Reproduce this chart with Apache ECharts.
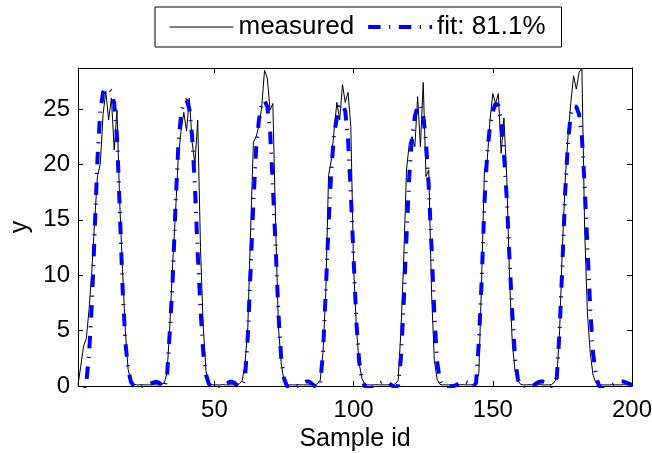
<!DOCTYPE html>
<html>
<head>
<meta charset="utf-8">
<script src="https://cdn.jsdelivr.net/npm/echarts@6/dist/echarts.min.js"></script>
<style>
html,body{margin:0;padding:0;background:#fff;}
#chart{width:652px;height:453px;}
</style>
</head>
<body>
<div id="chart"></div>
<script>
// ---- data ----
var seriesNames = ['measured', 'fit: 81.1%'];
var xTicks = [50, 100, 150, 200];
var yTicks = [0, 5, 10, 15, 20, 25];
var xRange = [1, 200];
var yRange = [0, 28.7];

var measured = [
  0.1, 1.8, 3.6, 4.3, 7, 10.5, 15, 19, 20, 24.5,
  26.6, 24, 26, 21.3, 24.9, 16.5, 10.5, 5, 1.5, 0.4,
  0.15, 0.1, 0.1, 0.12, 0.1, 0.1, 0.1, 0.12, 0.1, 0.1,
  0.15, 0.3, 1.2, 5.5, 11, 15.5, 20.5, 23, 24.7, 23,
  26, 22, 20, 24, 12.5, 5.3, 1.3, 0.3, 0.1, 0.1,
  0.1, 0.1, 0.12, 0.1, 0.1, 0.1, 0.1, 0.12, 0.2, 0.5,
  2, 5.3, 14, 22, 22.5, 23.5, 25.2, 28.5, 27.8, 24.9,
  25.5, 14.4, 5.3, 2, 0.5, 0.15, 0.1, 0.1, 0.1, 0.12,
  0.1, 0.1, 0.1, 0.1, 0.12, 0.1, 0.2, 0.5, 3, 8.4,
  19, 20.4, 23.1, 25.6, 24, 27.2, 25.6, 26.5, 23.4, 10.7,
  5.3, 2, 0.7, 0.15, 0.1, 0.1, 0.1, 0.12, 0.1, 0.1,
  0.1, 0.1, 0.12, 0.1, 0.2, 0.5, 5, 11.4, 19.5, 21.9,
  22.5, 21.6, 26.1, 21.6, 27.4, 18.9, 19.5, 8.4, 2.3, 0.6,
  0.15, 0.1, 0.1, 0.1, 0.12, 0.1, 0.1, 0.1, 0.12, 0.1,
  0.1, 0.1, 0.12, 0.3, 1.2, 9.8, 19.5, 20.4, 24, 26.4,
  25.5, 26.4, 21, 24.2, 18.9, 9.8, 3.9, 1.3, 0.5, 0.15,
  0.1, 0.1, 0.12, 0.1, 0.1, 0.1, 0.12, 0.1, 0.1, 0.1,
  0.12, 0.3, 0.8, 5, 12.5, 18.5, 22.5, 25.5, 28, 26.8,
  28.3, 28.7, 14, 6.5, 3, 1, 0.3, 0.15, 0.1, 0.1,
  0.1, 0.1, 0.12, 0.1, 0.1, 0.1, 0.12, 0.1, 0.1, 0.1
];

var fit = [
  -2, -1.5, -0.8, 0.3, 3, 7.5, 14, 20.5, 24.8, 26.5,
  26.9, 26.8, 26.6, 25.5, 22.5, 16, 9, 4, 1.5, 0.4,
  0, -0.2, -0.2, -0.1, 0, 0.1, 0.2, 0.3, 0.4, 0.3,
  0.1, -0.2, 1, 5, 9.5, 16, 21.5, 24.5, 25.7, 25.8,
  25, 22.5, 18, 12, 7, 3, 1, 0.2, -0.1, -0.2,
  -0.2, -0.1, 0, 0.2, 0.3, 0.4, 0.3, 0.1, -0.1, 0,
  0.8, 4.5, 10.5, 16.5, 21.5, 24, 25.5, 25.8, 25.2, 23,
  18, 12.5, 6.5, 2.5, 0.7, 0, -0.2, -0.2, -0.1, 0,
  0.1, 0.3, 0.4, 0.4, 0.2, 0, -0.2, 0.2, 3, 8.5,
  14.5, 19.5, 22.8, 24.2, 25.2, 25.5, 24.8, 22.2, 17.4, 11.5,
  5.8, 2.2, 0.6, 0, -0.2, -0.2, -0.1, 0, 0.1, 0.3,
  0.4, 0.4, 0.2, 0, -0.2, 0.1, 2.5, 7.5, 13.5, 19,
  22.5, 24.3, 25.3, 25.4, 24.5, 22, 18, 12.5, 6.5, 2.2,
  0.5, 0, -0.2, -0.2, -0.1, 0, 0.1, 0.3, 0.4, 0.4,
  0.3, 0.1, -0.1, 0.3, 4, 9.5, 16.5, 21, 23.5, 24.8,
  25.5, 25.3, 23.8, 21, 17, 11.5, 6.5, 2.5, 0.6, 0,
  -0.2, -0.2, -0.1, 0, 0.1, 0.3, 0.4, 0.4, 0.3, 0.1,
  -0.1, 0.1, 0.8, 5, 11, 17.5, 22, 24.5, 25.3, 25.2,
  24.5, 22.5, 18, 12.5, 7, 3, 1, 0.1, -0.2, -0.2,
  -0.1, 0, 0.1, 0.2, 0.3, 0.4, 0.4, 0.3, 0.2, 0.1
];

// sample ids 1..N (index axis)
var sampleIds = measured.map(function (_, i) { return i + 1; });

function pairs(vals) {
  return vals.map(function (v, i) { return [sampleIds[i], v]; });
}

var FONT = 'Liberation Sans, Arial, Helvetica, sans-serif';

function makeX(pos, showLabels, name) {
  return {
    type: 'value', position: pos, min: xRange[0], max: xRange[1],
    name: name || '', nameLocation: 'middle', nameGap: 39,
    nameTextStyle: { fontFamily: FONT, fontSize: 25, color: '#000' },
    axisLine: { show: true, onZero: false, lineStyle: { color: '#000', width: 1 } },
    axisTick: { show: true, inside: true, length: 5, customValues: xTicks, lineStyle: { color: '#000' } },
    axisLabel: { show: showLabels, customValues: xTicks, margin: 12, fontFamily: FONT, fontSize: 24, color: '#000' },
    splitLine: { show: false }
  };
}
function makeY(pos, showLabels, name) {
  return {
    type: 'value', position: pos, min: yRange[0], max: yRange[1],
    name: name || '', nameLocation: 'middle', nameGap: 45,
    nameTextStyle: { fontFamily: FONT, fontSize: 25, color: '#000' },
    axisLine: { show: true, onZero: false, lineStyle: { color: '#000', width: 1 } },
    axisTick: { show: true, inside: true, length: 5, customValues: yTicks, lineStyle: { color: '#000' } },
    axisLabel: { show: showLabels, customValues: yTicks, margin: 8, fontFamily: FONT, fontSize: 24, color: '#000' },
    splitLine: { show: false }
  };
}

var chart = echarts.init(document.getElementById('chart'), null, { renderer: 'canvas' });
chart.setOption({
  animation: false,
  backgroundColor: '#fff',
  grid: { left: 78, right: 20, top: 68, bottom: 67, containLabel: false, outerBoundsMode: 'none' },
  legend: {
    left: 155, top: 7,
    orient: 'horizontal',
    padding: [7, 16, 7, 14],
    itemGap: 12,
    itemWidth: 64, itemHeight: 14,
    borderColor: '#000', borderWidth: 1,
    backgroundColor: '#fff',
    textStyle: { fontFamily: FONT, fontSize: 26, color: '#000' },
    lineStyle: { width: 'inherit' },
    itemStyle: { opacity: 0, color: 'rgba(0,0,0,0)', borderWidth: 0 },
    data: seriesNames
  },
  xAxis: [makeX('bottom', true, 'Sample id'), makeX('top', false)],
  yAxis: [makeY('left', true, 'y'), makeY('right', false)],
  series: [
    {
      name: seriesNames[0], type: 'line', xAxisIndex: 0, yAxisIndex: 0,
      data: pairs(measured), symbol: 'none', showSymbol: false, clip: true,
      color: '#000',
      lineStyle: { color: '#000', width: 1 }
    },
    {
      name: seriesNames[1], type: 'line', xAxisIndex: 0, yAxisIndex: 0,
      data: pairs(fit), symbol: 'none', showSymbol: false, clip: true,
      color: '#0000ff',
      lineStyle: { color: '#0000ff', width: 4, type: [12.5, 8.5, 1.2, 8.5], cap: 'butt' }
    }
  ]
});
</script>
</body>
</html>
